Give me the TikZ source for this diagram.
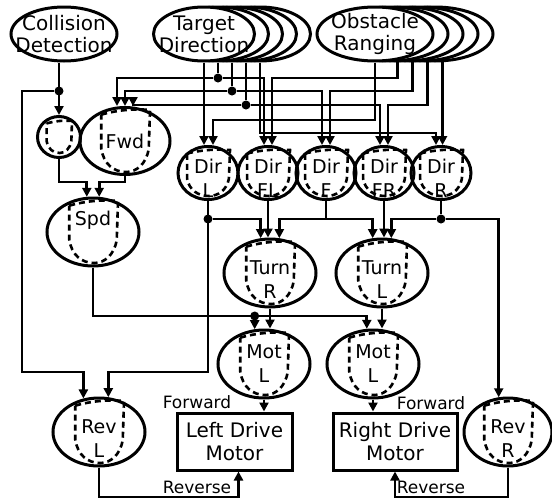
\documentclass[tikz,border=0pt]{standalone}
\usepackage{fontspec}
\setmainfont{DejaVu Sans}
\usetikzlibrary{arrows.meta,positioning,shapes.geometric,calc}
\tikzset{
	sensor/.style={draw, ellipse, fill=white, line width=3pt, minimum width=#1, minimum height=54pt, inner xsep=-14pt, inner ysep=-6pt, align=center, font=\fontsize{20}{22}\selectfont},
	dashcup/.style={line width=2.6pt, dash pattern=on 6pt off 4pt},
	pics/cup/.style 2 args={code={
		\draw[dashcup, x=#1pt, y=-#2pt]
			(-0.95,-0.85) .. controls (-0.3,-1.0) and (0.4,-1.05) .. (1,-1) -- (0.95,0.25)
			.. controls (0.85,0.75) and (0.45,1) .. (0.05,1)
			.. controls (-0.45,1) and (-0.85,0.75) .. (-0.95,0.25) -- cycle;}},
	neuron/.style={draw, ellipse, line width=3pt, inner sep=-4pt, align=center, font=\fontsize{19}{24}\selectfont},
	big/.style={neuron, minimum width=92pt, minimum height=68pt},
	dirn/.style={neuron, minimum width=60pt, minimum height=53pt, inner ysep=-8pt, text height=48pt},
	small/.style={neuron, minimum width=43pt, minimum height=41pt},
	sunk/.style={text height=50pt},
	motor/.style={draw, rectangle, line width=3pt, minimum height=57pt, align=center, font=\fontsize{20}{23}\selectfont},
	lbl/.style={inner sep=0pt, font=\fontsize{17}{19}\selectfont},
	lead/.style={line width=2.8pt},
	wire/.style={lead, -{Triangle[length=9pt,width=9pt]}},
	dot/.style={circle, fill, inner sep=0pt, minimum size=9pt}
}
\begin{document}
\begin{tikzpicture}[x=1pt, y=-1pt]
	\useasboundingbox (0,0) rectangle (552,501);
	% sensors
	\node[sensor=106pt] (col) at (64,34) {Collision\\Detection};
	\foreach \i in {4,3,2,1}
		\node[sensor=101pt] (td\i) at ({204+14*\i},34) {};
	\node[sensor=101pt] (td0) at (204,34) {Target\\Direction};
	\foreach \i in {4,3,2,1}
		\node[sensor=116pt] (or\i) at ({375+15*\i},34) {};
	\node[sensor=116pt] (or0) at (375,34) {Obstacle\\Ranging};
	% units
	\node[small] (sml) at (59,137) {};
	\node[big, minimum width=90pt, minimum height=67pt] (fwd) at (125,141) {Fwd};
	\node[dirn] (dirL) at (208,173) {Dir\\L};
	\node[dirn] (dirFL) at (268,173) {Dir\\FL};
	\node[dirn] (dirF) at (326,173) {Dir\\F};
	\node[dirn] (dirFR) at (384,173) {Dir\\FR};
	\node[dirn] (dirR) at (441,173) {Dir\\R};
	\node[big, text depth=28pt] (spd) at (93,232) {Spd};
	\node[big, sunk] (turnR) at (270,273) {Turn\\R};
	\node[big, sunk] (turnL) at (382,273) {Turn\\L};
	\node[big] (motA) at (264,364) {Mot\\L};
	\node[big] (motB) at (373,364) {Mot\\L};
	\node[big, sunk] (revL) at (99,432) {Rev\\L};
	\node[big, sunk, minimum width=88pt] (revR) at (508,432) {Rev\\R};
	\node[motor, minimum width=115pt] (ldm) at (234.5,441.5) {Left Drive\\Motor};
	\node[motor, minimum width=124pt] (rdm) at (395,441.5) {Right Drive\\Motor};
	\node[lbl] (fwdA) at (197,402) {Forward};
	\node[lbl] (fwdB) at (431,403) {Forward};
	\node[lbl] (revA) at (197,487) {Reverse};
	\node[lbl] (revB) at (431,487) {Reverse};
	% dashed cups inside the units
	\foreach \n in {fwd,spd,turnR,turnL,motA,motB,revL,revR}
		\pic at (\n) {cup={25}{31}};
	\foreach \n in {dirL,dirFL,dirF,dirFR,dirR}
		\pic at (\n) {cup={22}{23}};
	\pic at (sml) {cup={13}{16}};
	% rails
	\coordinate (busA) at (0,78);
	\coordinate (busB) at (0,91);
	\coordinate (busC) at (0,105);
	\coordinate (busD) at (0,120);
	\coordinate (busE) at (0,133);
	\coordinate (rowS) at (0,182);
	\coordinate (rowT) at (0,219);
	\coordinate (rowM) at (0,316);
	\coordinate (rowR) at (0,497);
	\coordinate (bendL) at (22,372);
	% target direction
	\draw[wire] (td0.south) -- (td0.south |- dirL.north);
	\node[dot] (jA) at (td1.south |- busA) {};
	\draw[lead] (td1.south) -- (jA);
	\draw[wire] (jA) -| ([xshift=-8pt]fwd.north);
	\draw[wire] (jA) -| ([xshift=-4pt]dirFL.north);
	\node[dot] (jB) at (td2.south |- busB) {};
	\draw[lead] (td2.south) -- (jB);
	\draw[wire] (jB) -| (fwd.north);
	\draw[wire] (jB) -| ([xshift=-4pt]dirF.north);
	\node[dot] (jC) at (td3.south |- busC) {};
	\draw[lead] (td3.south) -- (jC);
	\draw[wire] (jC) -| ([xshift=8pt]fwd.north);
	\draw[wire] (jC) -| ([xshift=-4pt]dirFR.north);
	\draw[wire] (td4.south) -- (td4.south |- busE) -| ([xshift=-5pt]dirR.north);
	% obstacle ranging
	\draw[wire] (or0.south) -- (or0.south |- busD) -| ([xshift=5pt]dirL.north);
	\draw[wire] (or1.285) -- (or1.285 |- busA) -| ([xshift=4pt]dirFL.north);
	\draw[wire] (or2.285) -- (or2.285 |- busB) -| ([xshift=4pt]dirF.north);
	\draw[wire] (or3.285) -- (or3.285 |- busC) -| ([xshift=4pt]dirFR.north);
	\draw[wire] (or4.285) -- (or4.285 |- dirR.north);
	% collision
	\draw[wire] (sml.north |- col.south) -- (sml.north);
	\node[dot] (jc) at (sml.north |- 0,91) {};
	\draw[wire] (jc) -| (bendL) -| (revL.115);
	% speed
	\draw[wire] (sml.south) -- (sml.south |- rowS) -| (spd.100);
	\draw[wire] (fwd.south) -- (fwd.south |- rowS) -| (spd.80);
	\node[dot] (jS) at (motA.105 |- rowM) {};
	\draw[wire] (spd.south) -- (spd.south |- rowM) -| (motB.100);
	\draw[wire] (jS) -- (motA.105);
	% direction to turn
	\node[dot] (jL) at (dirL.south |- rowT) {};
	\draw[wire] (dirL.south) -- (dirL.south |- bendL) -| (revL.75);
	\draw[wire] (jL) -| (turnR.105);
	\draw[wire] (dirFL.south) -- (dirFL.south |- turnR.north);
	\draw[wire] (dirF.south) -- (dirF.south |- rowT) -| (turnR.75);
	\draw[wire] (dirF.south |- rowT) -| (turnL.105);
	\draw[wire] (dirFR.south) -- (dirFR.south |- turnL.north);
	\node[dot] (jR) at (dirR.south |- rowT) {};
	\draw[lead] (dirR.south) -- (jR);
	\draw[wire] (jR) -| (turnL.75);
	\draw[wire] (jR) -| (revR.105);
	% motors
	\draw[wire] (turnR.south) -- (turnR.south |- motA.north);
	\draw[wire] (turnL.south) -- (turnL.south |- motB.north);
	\draw[wire] (motA.south) -- (motA.south |- ldm.north);
	\draw[wire] (motB.south) -- (motB.south |- rdm.north);
	\draw[wire] (revL.south) -- (revL.south |- rowR) -| ([xshift=4pt]ldm.south);
	\draw[wire] (revR.south) -- (revR.south |- rowR) -| (rdm.south);
\end{tikzpicture}
\end{document}
